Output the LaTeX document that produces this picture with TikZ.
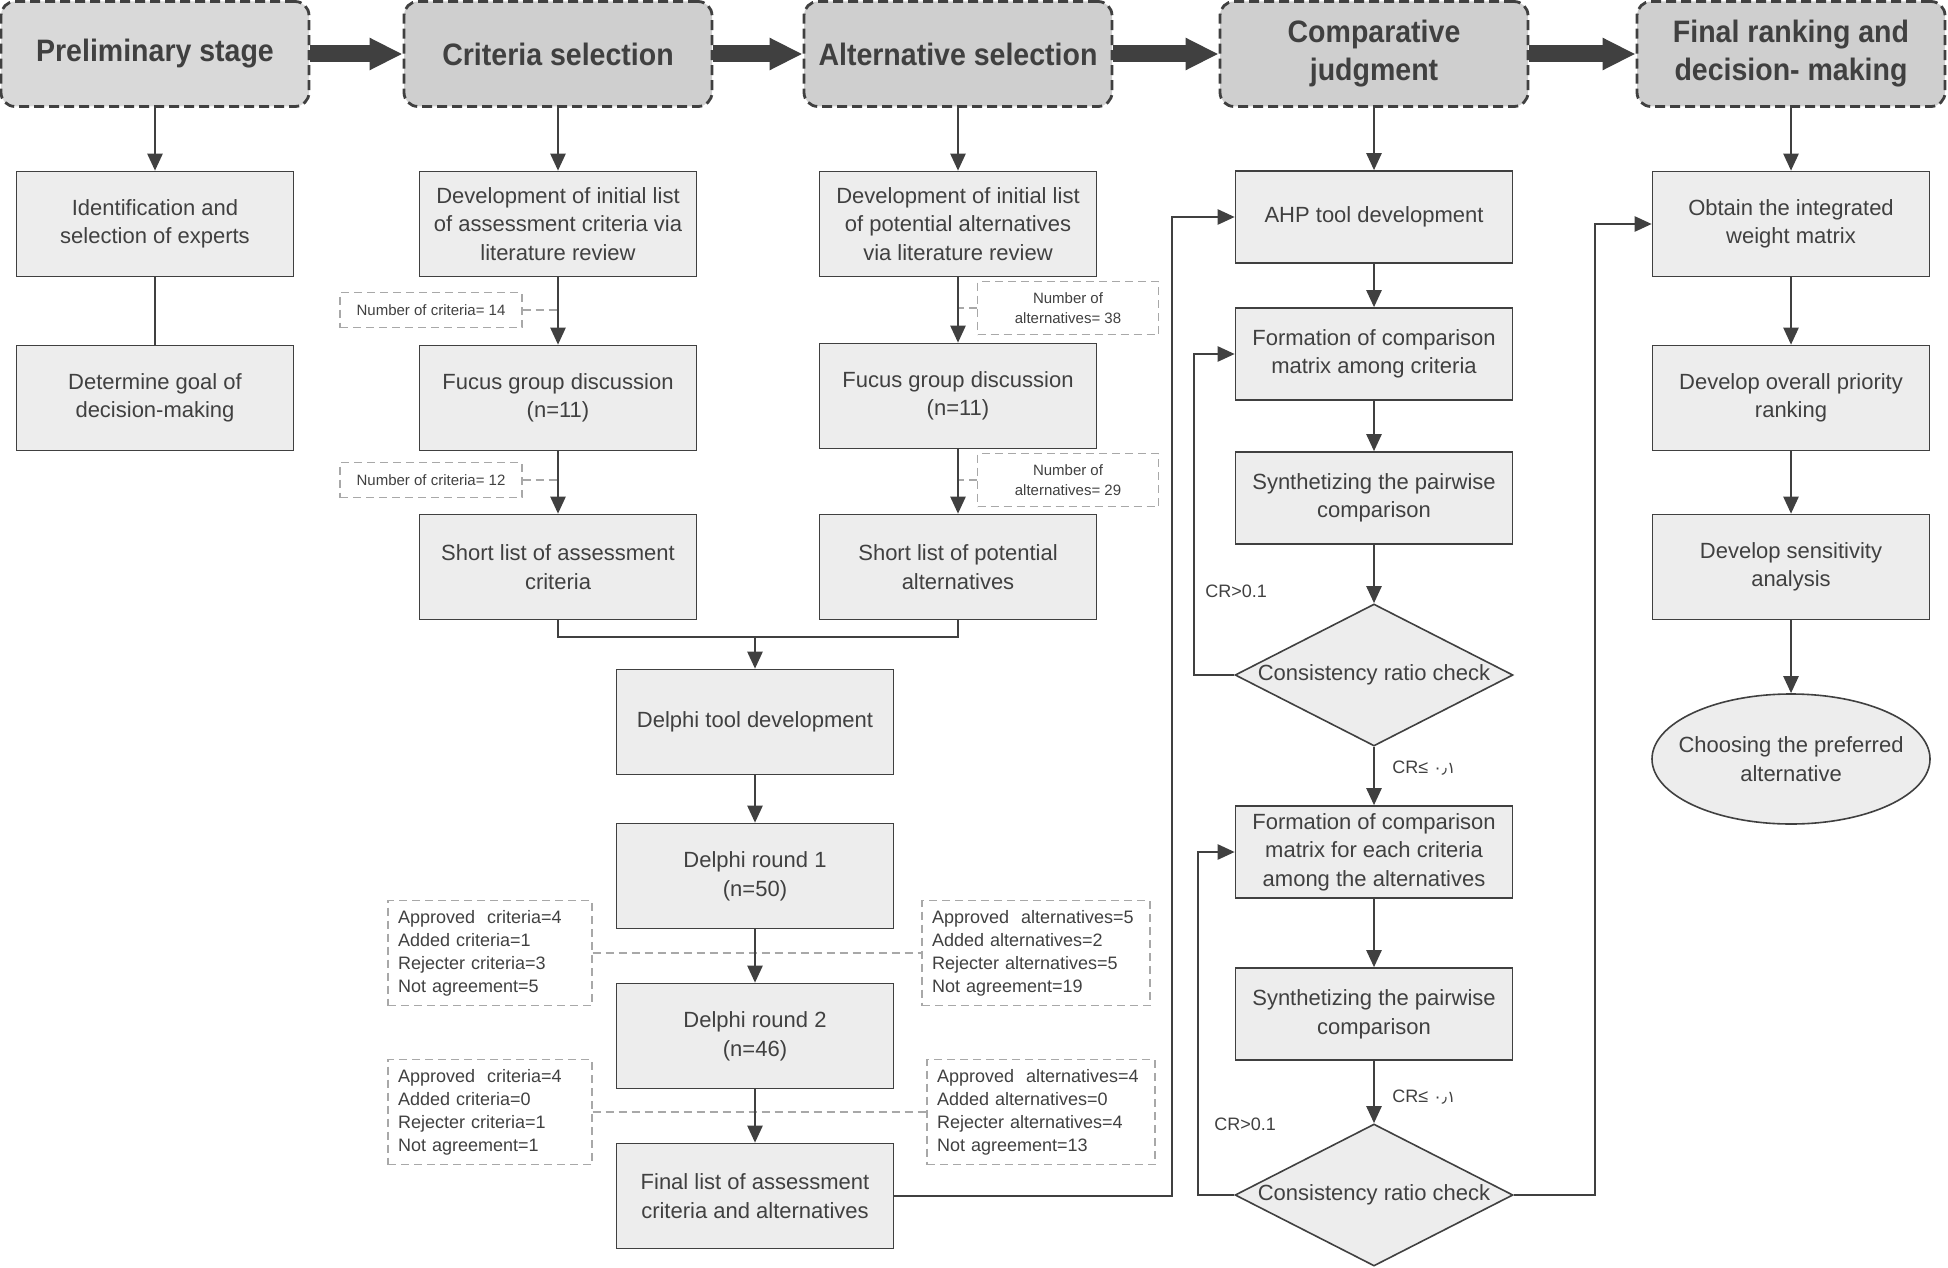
\documentclass[tikz,border=0pt]{standalone}
\usepackage{fontspec}
\setmainfont{Liberation Sans}
\newfontfamily\headfont[FakeStretch=0.92]{Liberation Sans}
\newfontfamily\arabicfont[Script=Arabic]{DejaVu Sans}
\usetikzlibrary{arrows.meta, shapes.geometric, positioning, calc}

\definecolor{ink}{HTML}{404040}
\definecolor{boxfill}{HTML}{EDEDED}
\definecolor{headfill}{HTML}{CFCFCF}
\definecolor{headlight}{HTML}{D9D9D9}
\definecolor{notegray}{HTML}{A8A8A8}

\tikzset{
	stage/.style={draw=ink, fill=headfill, line width=1.4pt, dash pattern=on 5pt off 2.5pt, rounded corners=7pt, minimum width=154pt, minimum height=52.5pt, align=center, text=ink, font=\headfont\bfseries\fontsize{15.5}{19}\selectfont},
	task/.style={draw=ink, fill=boxfill, line width=0.8pt, minimum width=138.5pt, minimum height=52.5pt, inner ysep=2pt, align=center, text=ink},
	ahptask/.style={task, minimum height=46pt},
	check/.style={diamond, draw=ink, fill=boxfill, line width=0.8pt, aspect=2, inner sep=0pt, minimum width=139pt, minimum height=71pt, text=ink},
	pick/.style={ellipse, draw=ink, fill=boxfill, line width=0.8pt, minimum width=139pt, minimum height=65pt, inner xsep=-8pt, inner ysep=0pt, align=center, text=ink},
	note/.style={draw=notegray, line width=0.7pt, dash pattern=on 4pt off 2.5pt, align=center, text=ink, font=\fontsize{7.5}{10}\selectfont},
	tally/.style={draw=notegray, line width=0.7pt, dash pattern=on 4pt off 2.5pt, align=left, inner xsep=5pt, minimum height=52.5pt, text=ink, font=\fontsize{9}{11.5}\selectfont},
	tie/.style={draw=notegray, line width=0.7pt, dash pattern=on 4pt off 2.5pt},
	link/.style={draw=ink, line width=1.2pt},
	flow/.style={link, -{Triangle[width=7.5pt,length=8.5pt]}},
	bigarrow/.style={draw=ink, line width=8.5pt, -{Triangle[width=15pt,length=16.5pt]}},
	crlabel/.style={anchor=west, inner sep=0pt, text=ink, font=\fontsize{9}{11}\selectfont}
}

\begin{document}
\begin{tikzpicture}[x=0.5pt, y=-0.5pt, font=\fontsize{11}{14.3}\selectfont]
	\def\cA{155}
	\def\cB{558}
	\def\cC{958}
	\def\cD{1374}
	\def\cE{1791}
	\def\cM{755}

	\useasboundingbox (0,0) rectangle (1948,1268);

	% stage headers
	\node[stage, fill=headlight]	(pre) at (\cA,54) {Preliminary stage};
	\node[stage]	(crit) at (\cB,54) {Criteria selection};
	\node[stage]	(alt) at (\cC,54) {Alternative selection};
	\node[stage]	(comp) at (\cD,54) {Comparative\\judgment};
	\node[stage]	(rank) at (\cE,54) {Final ranking and\\decision- making};

	\draw[bigarrow]	(pre) -- (crit);
	\draw[bigarrow]	(crit) -- (alt);
	\draw[bigarrow]	(alt) -- (comp);
	\draw[bigarrow]	(comp) -- (rank);

	% preliminary stage
	\node[task]	(ident) at (\cA,224) {Identification and\\selection of experts};
	\node[task]	(goal) at (\cA,398) {Determine goal of\\decision-making};
	\draw[flow]	(pre) -- (ident);
	\draw[link]	(ident) -- (goal);

	% criteria selection
	\node[task]	(critlit) at (\cB,224) {Development of initial list\\of assessment criteria via\\literature review};
	\node[task]	(critfg) at (\cB,398) {Fucus group discussion\\(n=11)};
	\node[task]	(critshort) at (\cB,567) {Short list of assessment\\criteria};
	\node[note, minimum width=91pt, minimum height=17.5pt]	(nc14) at (431,310) {Number of criteria= 14};
	\node[note, minimum width=91pt, minimum height=17.5pt]	(nc12) at (431,480) {Number of criteria= 12};
	\draw[tie]	(nc14.east) -- (nc14.east -| critlit.south);
	\draw[tie]	(nc12.east) -- (nc12.east -| critfg.south);
	\draw[flow]	(crit) -- (critlit);
	\draw[flow]	(critlit) -- (critfg);
	\draw[flow]	(critfg) -- (critshort);

	% alternative selection
	\node[task]	(altlit) at (\cC,224) {Development of initial list\\of potential alternatives\\via literature review};
	\node[task]	(altfg) at (\cC,396) {Fucus group discussion\\(n=11)};
	\node[task]	(altshort) at (\cC,567) {Short list of potential\\alternatives};
	\node[note, minimum width=90.5pt, minimum height=26.5pt]	(na38) at (1068,308) {Number of\\alternatives= 38};
	\node[note, minimum width=90.5pt, minimum height=26.5pt]	(na29) at (1068,480) {Number of\\alternatives= 29};
	\draw[tie]	(na38.west) -- (na38.west -| altlit.south);
	\draw[tie]	(na29.west) -- (na29.west -| altfg.south);
	\draw[flow]	(alt) -- (altlit);
	\draw[flow]	(altlit) -- (altfg);
	\draw[flow]	(altfg) -- (altshort);

	% delphi rounds
	\coordinate	(merge) at (\cM,637);
	\node[task]	(dtool) at (\cM,722) {Delphi tool development};
	\node[task]	(round1) at (\cM,876) {Delphi round 1\\(n=50)};
	\node[task]	(round2) at (\cM,1036) {Delphi round 2\\(n=46)};
	\node[task]	(final) at (\cM,1196) {Final list of assessment\\criteria and alternatives};
	\draw[link]	(critshort.south) |- (merge) -| (altshort.south);
	\draw[flow]	(merge) -- (dtool);

	\node[tally, text width=92pt]	(r1crit) at (490,953) {Approved~ criteria=4\\Added criteria=1\\Rejecter criteria=3\\Not agreement=5};
	\node[tally, text width=104pt]	(r1alt) at (1036,953) {Approved~ alternatives=5\\Added alternatives=2\\Rejecter alternatives=5\\Not agreement=19};
	\node[tally, text width=92pt]	(r2crit) at (490,1112) {Approved~ criteria=4\\Added criteria=0\\Rejecter criteria=1\\Not agreement=1};
	\node[tally, text width=104pt]	(r2alt) at (1041,1112) {Approved~ alternatives=4\\Added alternatives=0\\Rejecter alternatives=4\\Not agreement=13};
	\draw[tie]	(r1crit.east) -- (r1alt.west);
	\draw[tie]	(r2crit.east) -- (r2alt.west);

	\draw[flow]	(dtool) -- (round1);
	\draw[flow]	(round1) -- (round2);
	\draw[flow]	(round2) -- (final);

	% comparative judgment
	\node[ahptask]	(ahp) at (\cD,217) {AHP tool development};
	\node[ahptask]	(form1) at (\cD,354) {Formation of comparison\\matrix among criteria};
	\node[ahptask]	(synth1) at (\cD,498) {Synthetizing the pairwise\\comparison};
	\node[check]	(chk1) at (\cD,675) {Consistency ratio check};
	\node[ahptask]	(form2) at (\cD,852) {Formation of comparison\\matrix for each criteria\\among the alternatives};
	\node[ahptask]	(synth2) at (\cD,1014) {Synthetizing the pairwise\\comparison};
	\node[check]	(chk2) at (\cD,1195) {Consistency ratio check};

	\draw[flow]	(final.east) -| ($(ahp.west)+(-63,0)$) -- (ahp.west);
	\draw[flow]	(comp) -- (ahp);
	\draw[flow]	(ahp) -- (form1);
	\draw[flow]	(form1) -- (synth1);
	\draw[flow]	(synth1) -- (chk1);
	\draw[flow]	(chk1.west) -- ++(-40,0) |- (form1.west);
	\draw[flow]	(chk1) -- (form2);
	\draw[flow]	(form2) -- (synth2);
	\draw[flow]	(synth2) -- (chk2);
	\draw[flow]	(chk2.west) -- ++(-36,0) |- (form2.west);

	\node[crlabel]	(gt1) at (1205,591) {CR>0.1};
	\node[crlabel]	(le1) at (1392,768) {CR≤ {\arabicfont\fontsize{8}{9}\selectfont ٠٫١}};
	\node[crlabel]	(gt2) at (1214,1124) {CR>0.1};
	\node[crlabel]	(le2) at (1392,1097) {CR≤ {\arabicfont\fontsize{8}{9}\selectfont ٠٫١}};

	% final ranking
	\node[task]	(obtain) at (\cE,224) {Obtain the integrated\\weight matrix};
	\node[task]	(overall) at (\cE,398) {Develop overall priority\\ranking};
	\node[task]	(sens) at (\cE,567) {Develop sensitivity\\analysis};
	\node[pick]	(choose) at (\cE,759) {Choosing the preferred\\alternative};

	\draw[flow]	(chk2.east) -- ++(81,0) |- (obtain.west);
	\draw[flow]	(rank) -- (obtain);
	\draw[flow]	(obtain) -- (overall);
	\draw[flow]	(overall) -- (sens);
	\draw[flow]	(sens) -- (choose);
\end{tikzpicture}
\end{document}
